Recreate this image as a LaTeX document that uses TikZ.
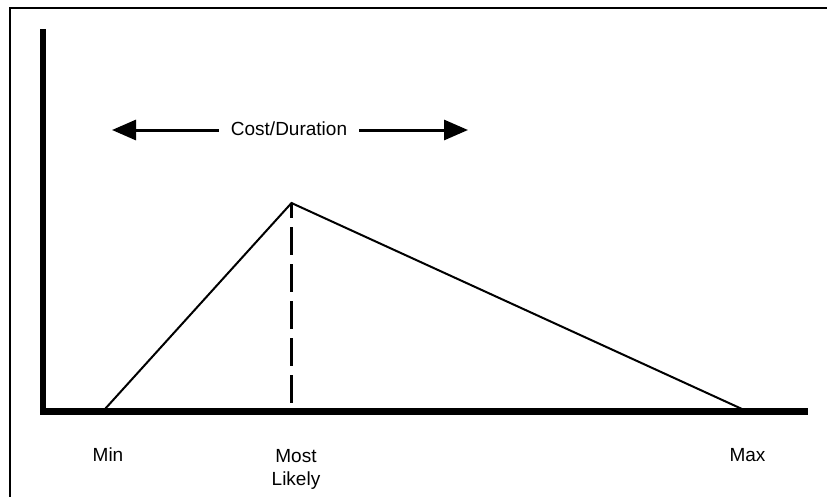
\documentclass[tikz,border=0pt]{standalone}
\usepackage{fontspec}
\setmainfont{Liberation Sans}
\usetikzlibrary{arrows.meta}
\begin{document}
\begin{tikzpicture}[x=1pt,y=-1pt,
  axisline/.style={line width=6.5pt},
  frameline/.style={line width=2.5pt},
  tri/.style={line width=2pt, line join=miter},
  dashline/.style={line width=3.3pt, dash pattern=on 28pt off 9pt, dash phase=13pt},
  arrowline/.style={line width=3pt, -{Triangle[length=24pt,width=20pt]}},
  lbl/.style={font=\fontsize{19}{23}\selectfont, align=center, inner sep=0pt}]
\useasboundingbox (0,0) rectangle (827,496);
% frame
\coordinate (fbl) at (10,500);
\coordinate (ftl) at (10,8);
\coordinate (ftr) at (830,8);
\draw[frameline] (fbl) -- (ftl) -- (ftr);
% axes
\coordinate (ytop) at (43,29);
\coordinate (origin) at (43,411.5);
\coordinate (xend) at (808,411.5);
\draw[axisline] (ytop) -- (43,415) ;
\draw[axisline] (40,411.5) -- (xend);
% triangle
\coordinate (min) at (105,409);
\coordinate (peak) at (291.5,203);
\coordinate (max) at (742,409);
\coordinate (foot) at (291.5,409);
\draw[tri] (min) -- (peak) -- (max);
\draw[dashline] (peak) -- (foot);
% arrow
\node[lbl, inner xsep=12pt] (cd) at (289,128.5) {Cost/Duration};
\coordinate (ltip) at (112,130);
\coordinate (rtip) at (468,130);
\draw[arrowline] (cd.west |- ltip) -- (ltip);
\draw[arrowline] (cd.east |- rtip) -- (rtip);
% labels
\node[lbl, anchor=base] (lmin) at (108,461.5) {Min};
\node[lbl, anchor=base] (lml) at (296,462) {Most};
\node[lbl, anchor=base] (lml2) at (296,485) {Likely};
\node[lbl, anchor=base] (lmax) at (747.5,461.5) {Max};
\end{tikzpicture}
\end{document}
